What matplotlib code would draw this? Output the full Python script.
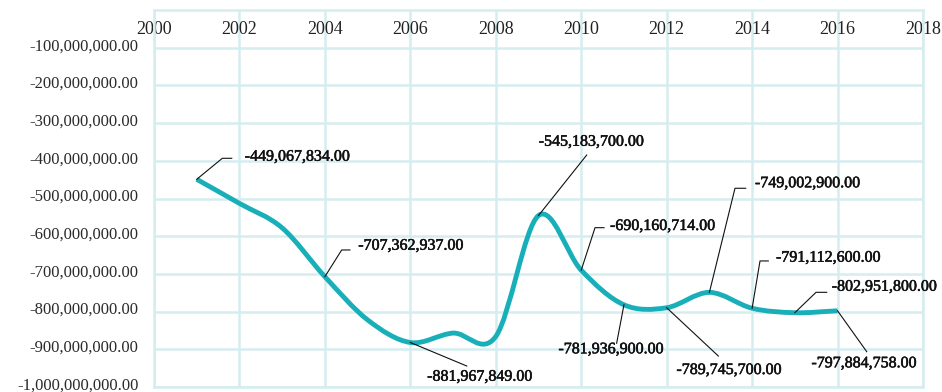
import numpy as np
import matplotlib
matplotlib.use("Agg")
import matplotlib.pyplot as plt
import matplotlib.transforms as mtransforms
import matplotlib.patheffects as pe
from matplotlib.path import Path
from matplotlib.patches import PathPatch
from matplotlib.ticker import FuncFormatter

plt.rcParams['font.family'] = ['Liberation Serif', 'DejaVu Serif']

years = [2001, 2002, 2003, 2004, 2005, 2006, 2007, 2008,
         2009, 2010, 2011, 2012, 2013, 2014, 2015, 2016]
values = [-449067834, -513000000, -578000000, -707362937, -822000000,
          -881967849, -857000000, -866000000, -545183700, -690160714,
          -781936900, -789745700, -749002900, -791112600, -802951800,
          -797884758]
labelled_years = [2001, 2004, 2006, 2009, 2010, 2011, 2012, 2013, 2014, 2015, 2016]

# leader waypoints and text anchor, in pixels from the point (y up)
leaders = {
    2001: ([(0, 0), (25.6, 21), (35, 21)], (48, 22.6), 'left'),
    2004: ([(0, 0), (16.8, 26.7), (25, 26.7)], (33.4, 31), 'left'),
    2006: ([(0, 0), (56.4, -23.5)], (69.4, -34.2), 'center'),
    2009: ([(0, 0), (48.2, 60.5)], (52.8, 73.8), 'center'),
    2010: ([(0, 0), (13.8, 42.5), (22.8, 42.5)], (28.8, 44.2), 'left'),
    2011: ([(0, 0), (-7.3, -38.5)], (-13, -44.5), 'center'),
    2012: ([(0, 0), (51.7, -48.3)], (62.4, -62.3), 'center'),
    2013: ([(0, 0), (25.6, 104.1), (36.3, 104.1)], (45.6, 109.1), 'left'),
    2014: ([(0, 0), (7.9, 47.3), (16.2, 47.3)], (23.9, 50.6), 'left'),
    2015: ([(0, 0), (21.2, 20.4), (31.9, 20.4)], (36.9, 26), 'left'),
    2016: ([(0, 0), (29.2, -40.9)], (26.5, -52.5), 'center'),
}

line_color = '#19afb9'
grid_color = '#d6edf0'

fig = plt.figure(figsize=(9.42, 3.92), dpi=100)
ax = fig.add_axes([154 / 942, 5 / 392, 769 / 942, 377 / 392])
ax.set_xlim(2000, 2018)
ax.set_ylim(-1e9, 0)

ax.set_xticks(np.arange(2000, 2019, 2))
ax.set_yticks(np.arange(-1e9, -0.5e8, 1e8))
ax.yaxis.set_major_formatter(FuncFormatter(lambda v, pos: '{:,.2f}'.format(v)))
ax.xaxis.tick_top()
ax.tick_params(axis='x', length=0, pad=-20, labelsize=13, colors='#222222')
ax.tick_params(axis='y', length=0, pad=11, labelsize=12, colors='#2a2a2a')
# y labels sit a little above their gridlines
lift = mtransforms.ScaledTranslation(0, 3.5 / 100, fig.dpi_scale_trans)
for tick in ax.yaxis.get_major_ticks():
    tick.label1.set_transform(tick.label1.get_transform() + lift)

ax.grid(True, color=grid_color, lw=1.8, zorder=0)
ax.set_axisbelow(True)
for sp in ax.spines.values():
    sp.set_color(grid_color)
    sp.set_linewidth(1.8)

# catmull-rom curve through the points, built as cubic beziers
pts = ax.transData.transform(np.column_stack([years, values]))
n = len(pts)
tang = np.zeros_like(pts)
tang[0] = pts[1] - pts[0]
tang[-1] = pts[-1] - pts[-2]
tang[1:-1] = (pts[2:] - pts[:-2]) / 2

verts = [pts[0]]
codes = [Path.MOVETO]
for i in range(n - 1):
    verts += [pts[i] + tang[i] / 3, pts[i + 1] - tang[i + 1] / 3, pts[i + 1]]
    codes += [Path.CURVE4] * 3
verts = ax.transData.inverted().transform(np.array(verts))
ax.add_patch(PathPatch(Path(verts, codes), fill=False, edgecolor=line_color,
                       lw=3.5, joinstyle='round', capstyle='butt', zorder=3))

for yr in labelled_years:
    val = values[years.index(yr)]
    way, (tx, ty), ha = leaders[yr]
    trans = mtransforms.ScaledTranslation(yr, val, ax.transData)
    wx, wy = zip(*way)
    ax.plot(wx, wy, color='#111111', lw=0.8, transform=trans, zorder=4)
    ax.annotate('{:,.2f}'.format(val), xy=(yr, val), xytext=(tx, ty),
                textcoords='offset pixels', ha=ha, va='center',
                fontsize=11.5, color='#111111', zorder=5,
                path_effects=[pe.withStroke(linewidth=0.4, foreground='#111111')])

fig.savefig('out.png', dpi=100)
